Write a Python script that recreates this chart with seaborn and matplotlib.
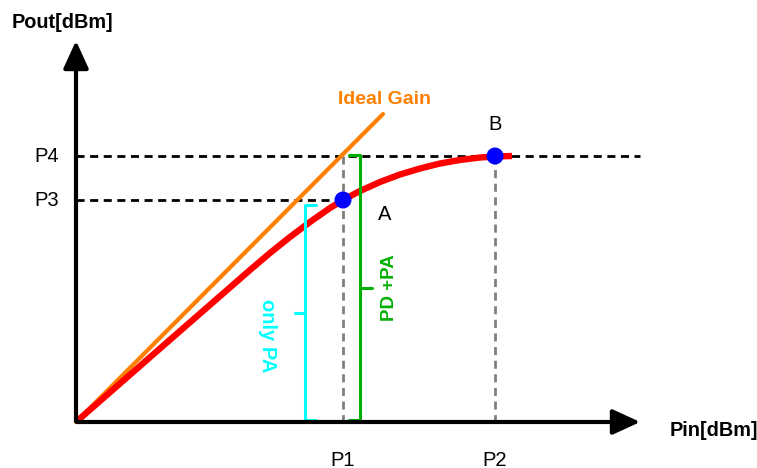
import numpy as np
import pandas as pd
import matplotlib.pyplot as plt
import seaborn as sns

# schematic PA compression curve (pixel-like units)
pin = [76, 160, 250, 270, 290, 310, 330, 343, 360, 380, 400, 420, 440, 460, 480, 495, 512]
pout = [422, 348.5, 270, 253, 237, 222, 208, 200, 191, 182, 174.5, 168.5, 163.5, 160, 157.5, 156.5, 156]
ideal_pin = [76, 383]
ideal_pout = [422, 114]
op_names = ['A', 'B']
op_pin = [343, 495]
op_pout = [200, 156]
in_ticks = ['P1', 'P2']
out_ticks = ['P3', 'P4']

sns.set_style('white')
plt.rcParams['font.family'] = ['Liberation Sans', 'DejaVu Sans']
plt.rcParams['text.color'] = 'black'

fig = plt.figure(figsize=(7.57, 4.68), dpi=100)
ax = fig.add_axes([0, 0, 1, 1])
ax.set_xlim(0, 757)
ax.set_ylim(468, 0)
ax.axis('off')

x0, y0 = pin[0], pout[0]
dash = (0, (2.9, 2.0))

# axes arrows
arrow = dict(arrowstyle='-|>,head_length=1.2,head_width=0.55',
             lw=3, color='black', mutation_scale=14)
ax.annotate('', xy=(x0, 38), xytext=(x0, y0 + 2), arrowprops=arrow)
ax.annotate('', xy=(643, y0), xytext=(x0 - 2, y0), arrowprops=arrow)
ax.text(12, 22, 'Pout[dBm]', fontsize=14.3, fontweight='bold', va='center', ha='left')
ax.text(670, 430, 'Pin[dBm]', fontsize=14.3, fontweight='bold', va='center', ha='left')

# dashed guides
ax.plot([x0, 640], [op_pout[1], op_pout[1]], ls=dash, color='black', lw=2)
ax.plot([x0, op_pin[0]], [op_pout[0], op_pout[0]], ls=dash, color='black', lw=2)
ax.plot([op_pin[0], op_pin[0]], [op_pout[1], y0], ls=dash, color='grey', lw=2)
ax.plot([op_pin[1], op_pin[1]], [op_pout[1], y0], ls=dash, color='grey', lw=2)

for lab, xp in zip(in_ticks, op_pin):
    ax.text(xp, 460, lab, fontsize=14.5, ha='center', va='center')
for lab, yp in zip(out_ticks, op_pout):
    ax.text(47, yp, lab, fontsize=14.5, ha='center', va='center')

# ideal gain
sns.lineplot(x=ideal_pin, y=ideal_pout, ax=ax, color='#ff8000', lw=3, sort=False)
ax.text(385, 100, 'Ideal Gain', color='#ff8000', fontsize=14, fontweight='bold',
        ha='center', va='center')

# real curve
sns.lineplot(x=pin, y=pout, ax=ax, color='#ff0000', lw=4.6, sort=False,
             solid_joinstyle='round', solid_capstyle='butt')
sns.scatterplot(x=op_pin, y=op_pout, ax=ax, color='#0000ff', s=150, zorder=5,
                edgecolor='none')
ax.text(385, 215, op_names[0], fontsize=14.5, ha='center', va='center')
ax.text(495, 125, op_names[1], fontsize=14.5, ha='center', va='center')

# brackets
green = '#00b000'
ax.plot([349, 360, 360, 349], [155, 155, 420, 420], color=green, lw=2.2)
ax.plot([360, 372], [288, 288], color=green, lw=2.2)
ax.text(389, 288, 'PD +PA', color=green, fontsize=13.5, fontweight='bold',
        rotation=90, ha='center', va='center')

cyan = '#00ffff'
ax.plot([316, 305, 305, 316], [205, 205, 420, 420], color=cyan, lw=2.2)
ax.plot([295, 305], [313, 313], color=cyan, lw=2.2)
ax.text(268, 336, 'only PA', color=cyan, fontsize=14.5, fontweight='bold',
        rotation=-90, ha='center', va='center')

fig.savefig('out.png', dpi=100)
